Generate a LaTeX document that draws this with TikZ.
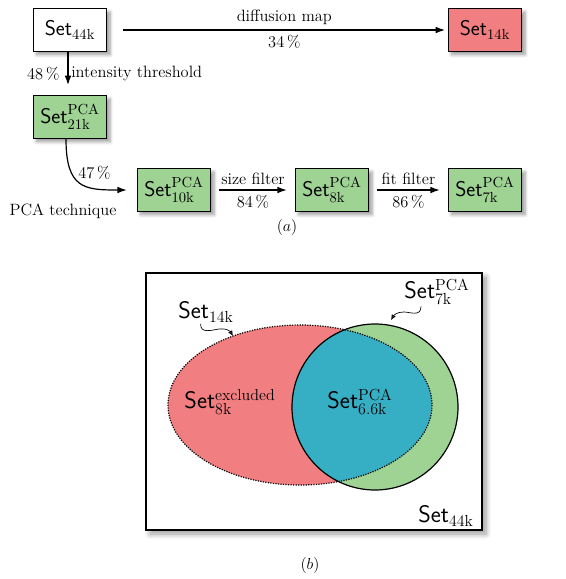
\documentclass[tikz,border=0pt]{standalone}
\usepackage{amsmath}
\usepackage{xcolor}
\usetikzlibrary{arrows.meta,shadows.blur}

\definecolor{setred}{RGB}{241,126,128}
\definecolor{setgreen}{RGB}{158,211,147}
\definecolor{setblue}{RGB}{54,174,196}

\newcommand{\setsub}[1]{\textsf{Set}$_{\mathrm{#1}}$}
\newcommand{\setsup}[2]{\textsf{Set}$^{\mathrm{#2}}_{\mathrm{#1}}$}

\tikzset{
  setbox/.style={draw, line width=0.9pt, minimum width=55pt, minimum height=32pt,
    inner sep=2pt, font=\fontsize{16}{19}\selectfont,
    blur shadow={shadow xshift=2.5pt, shadow yshift=-2.5pt, shadow blur steps=6, shadow blur radius=2.5pt}},
  setlabel/.style={inner sep=1pt, font=\fontsize{18}{21}\selectfont},
  arr/.style={-{Latex[length=7pt,width=5pt]}, line width=0.9pt},
  wavyarr/.style={-{Latex[length=4pt,width=3.5pt]}, line width=0.5pt},
}

\begin{document}
\begin{tikzpicture}[x=0.75pt,y=0.75pt,yscale=-1,xscale=1, font=\fontsize{12.3}{14.5}\selectfont]
    \useasboundingbox (0,0) rectangle (565,579);

    %Shape: Boxes of part (a)
    \node [setbox, fill=white] (s44) at (70,30) {\setsub{44k}};
    \node [setbox, fill=setred] (s14) at (485,30) {\setsub{14k}};
    \node [setbox, fill=setgreen] (s21) at (70,117) {\setsup{21k}{PCA}};
    \node [setbox, fill=setgreen] (s10) at (174,190) {\setsup{10k}{PCA}};
    \node [setbox, fill=setgreen] (s8) at (332,190) {\setsup{8k}{PCA}};
    \node [setbox, fill=setgreen] (s7) at (485,190) {\setsup{7k}{PCA}};

    %Straight Lines
    \draw [arr, shorten <=12pt, shorten >=2pt] (s44) -- (s14)
        node [pos=0.52, above] {diffusion map} node [pos=0.52, below] {34\,\%};
    \draw [arr, shorten >=7.5pt] ([xshift=-1.5pt]s44.south) -- ([xshift=-1.5pt]s21.north)
        node [midway, left, inner sep=6pt] {48\,\%} node [midway, right, inner sep=2pt] {intensity threshold};
    %Curve Lines
    \draw [arr] ([xshift=-3pt]s21.south) .. controls +(0,50) and +(-42,0) ..
        node [pos=0.45, above right, inner sep=1pt, xshift=-1pt] {47\,\%} ([xshift=-7.5pt]s10.west);
    \draw [arr, shorten <=6pt, shorten >=6pt] (s10) -- (s8)
        node [midway, above] {size filter} node [midway, below] {84\,\%};
    \draw [arr, shorten <=6pt, shorten >=6pt] (s8) -- (s7)
        node [midway, above] {fit filter} node [midway, below] {86\,\%};

    % Text Node
    \node (pca) at (63,211) {PCA technique};
    % Text Node
    \node (capa) at (287,227) {$(a)$};

    %Shape: Rectangle of part (b)
    \draw [line width=0.9pt, fill=white, blur shadow={shadow xshift=3pt, shadow yshift=-3pt, shadow blur steps=8, shadow blur radius=4pt}] (146,273) rectangle (482,530);

    %Shape: Ellipse and Circle
    \fill [setred] (300,405) ellipse [x radius=132, y radius=80];
    \fill [setgreen] (375,407) circle [radius=83];
    \begin{scope}
      \clip (300,405) ellipse [x radius=132, y radius=80];
      \fill [setblue] (375,407) circle [radius=83];
    \end{scope}
    \draw [densely dotted, line width=0.9pt] (300,405) ellipse [x radius=132, y radius=80];
    \draw [line width=0.9pt] (375,407) circle [radius=83];

    % Text Node
    \node [setlabel] (l14) at (206,312) {\setsub{14k}};
    \node [setlabel] (l7) at (437,292) {\setsup{7k}{PCA}};
    \node [setlabel] (lex) at (230,402) {\setsup{8k}{excluded}};
    \node [setlabel] (lin) at (360,402) {\setsup{6.6k}{PCA}};
    \node [setlabel] (l44) at (446,516) {\setsub{44k}};
    \node (capb) at (310,565) {$(b)$};

    %Curve Lines
    \coordinate (c14) at (233,336);
    \coordinate (c7) at (391,320);
    \draw [wavyarr] ([xshift=-4pt]l14.south) .. controls (200,334) and (212,330) .. (219,329) .. controls (226,328) and (230,331) .. (c14);
    \draw [wavyarr] ([xshift=-12pt]l7.south) .. controls (421,317) and (410,312) .. (404,312) .. controls (397,312) and (394,315) .. (c7);
\end{tikzpicture}
\end{document}
